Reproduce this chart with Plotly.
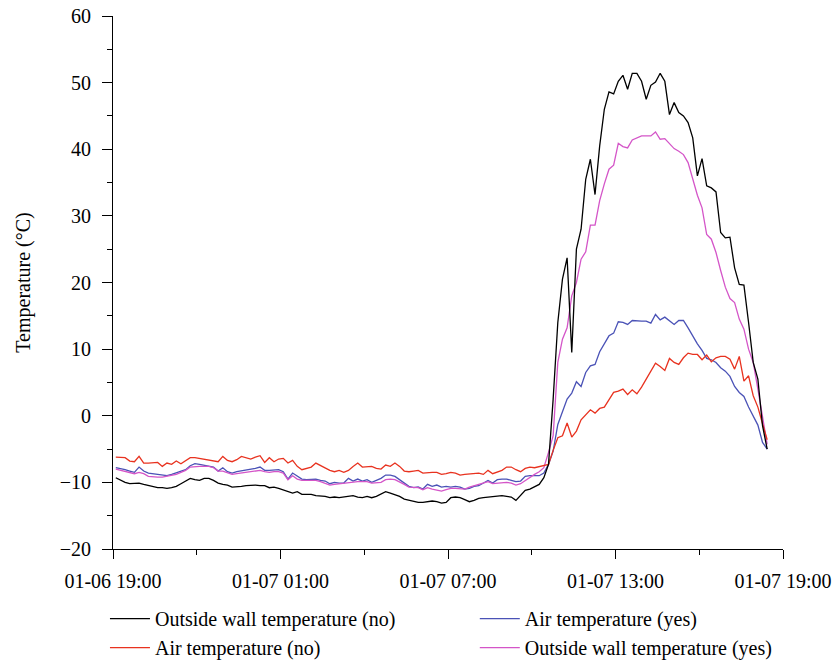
import pandas as pd
import plotly.graph_objects as go

start_time = "2021-01-06 19:06"
step = "10min"

wall_no = [
    -9.3, -9.7, -10.0, -10.2, -10.1, -10.1, -10.3, -10.5, -10.6, -10.8,
    -10.8, -10.9, -10.8, -10.6, -10.2, -9.8, -9.4, -9.6, -9.7, -9.4,
    -9.4, -9.7, -10.1, -10.3, -10.4, -10.7, -10.7, -10.6, -10.5, -10.4,
    -10.4, -10.5, -10.5, -10.8, -10.7, -10.9, -11.1, -11.3, -11.6, -11.4,
    -11.8, -11.8, -11.8, -12.0, -12.0, -12.1, -12.3, -12.2, -12.3, -12.2,
    -12.0, -12.0, -12.2, -12.3, -12.1, -12.3, -12.1, -11.7, -11.4, -11.6,
    -11.8, -12.1, -12.5, -12.7, -12.8, -13.0, -13.0, -12.9, -12.8, -12.9,
    -13.1, -13.0, -12.3, -12.2, -12.3, -12.6, -12.9, -12.7, -12.4, -12.3,
    -12.2, -12.1, -12.1, -12.0, -12.1, -12.2, -12.7, -11.9, -11.2, -11.0,
    -10.7, -10.3, -9.3, -7.3, 2.5, 14.0, 20.5, 23.7, 9.5, 25.0,
    28.0, 35.5, 38.5, 33.2, 40.5, 46.0, 48.6, 48.3, 50.2, 51.1,
    49.0, 51.4, 51.4, 50.2, 47.5, 49.6, 50.1, 51.4, 50.2, 45.2,
    47.0, 45.5, 45.0, 44.0, 41.7, 36.0, 38.6, 34.5, 34.2, 33.6,
    27.5, 26.7, 26.8, 22.2, 19.7, 19.6, 14.0, 8.0, 5.5, -1.5,
    -5.0,
]

air_no = [
    -6.2, -6.3, -6.3, -6.8, -6.9, -6.1, -7.1, -7.1, -7.0, -7.0,
    -7.6, -7.1, -7.3, -6.8, -7.2, -6.8, -6.3, -6.3, -6.4, -6.6,
    -6.7, -6.8, -6.9, -6.1, -6.7, -6.9, -6.6, -6.1, -6.3, -6.5,
    -6.2, -6.0, -7.0, -6.3, -6.9, -6.5, -6.4, -7.1, -6.7, -7.6,
    -8.1, -7.9, -7.7, -7.1, -7.5, -7.9, -8.2, -8.4, -8.2, -8.5,
    -8.2, -7.6, -7.1, -7.7, -7.6, -7.6, -7.9, -8.0, -7.4, -7.6,
    -7.1, -7.6, -8.3, -8.4, -8.3, -8.2, -8.6, -8.5, -8.5, -8.5,
    -8.8, -8.7, -8.5, -8.6, -8.9, -8.8, -8.7, -8.7, -8.6, -8.8,
    -8.2, -8.7, -8.4, -8.2, -7.7, -7.7, -8.1, -8.4, -7.9, -7.7,
    -7.8, -7.6, -7.4, -7.3, -5.2, -3.3, -3.0, -1.1, -3.2, -2.3,
    -0.6, 0.2, 0.9, 0.4, 1.1, 1.3, 2.4, 3.5, 3.7, 4.0,
    3.2, 3.9, 3.3, 4.3, 5.5, 6.8, 7.9, 7.4, 6.8, 8.6,
    8.0, 7.7, 8.7, 9.4, 9.2, 9.2, 8.4, 9.1, 8.1, 8.7,
    8.9, 8.9, 8.5, 7.0, 8.9, 5.2, 6.0, 3.0, 1.3, -1.2,
    -3.6,
]

air_yes = [
    -7.8, -7.9, -8.1, -8.3, -8.5, -7.7, -8.3, -8.6, -8.7, -8.8,
    -8.9, -9.0, -8.8, -8.6, -8.3, -8.1, -7.5, -7.2, -7.3, -7.4,
    -7.5, -7.7, -8.3, -7.8, -8.4, -8.6, -8.4, -8.3, -8.2, -8.1,
    -7.9, -7.7, -8.2, -8.2, -8.2, -8.1, -8.4, -9.5, -8.6, -9.0,
    -9.5, -9.6, -9.6, -9.5, -9.7, -9.8, -10.2, -10.0, -10.1, -10.1,
    -9.4, -9.8, -9.5, -9.8, -9.6, -10.0, -9.7, -9.4, -8.9, -8.9,
    -9.1, -9.6, -10.1, -10.6, -10.8, -10.7, -11.0, -10.3, -10.6, -10.4,
    -10.7, -10.6, -10.7, -10.6, -10.7, -11.0, -10.9, -10.6, -10.5, -10.1,
    -9.7, -10.1, -9.6, -9.5, -9.5, -9.7, -9.9, -9.8, -9.1, -9.0,
    -9.0, -9.0, -8.6, -7.3, -5.3, -1.3, 0.6, 2.5, 3.4, 5.1,
    4.4, 6.5, 7.5, 7.7, 9.6, 10.8, 12.0, 12.4, 14.1, 14.0,
    13.7, 14.3, 14.2, 14.2, 14.2, 13.9, 15.2, 14.4, 14.8, 14.3,
    13.7, 14.3, 14.3, 13.2, 11.9, 10.8, 9.8, 8.6, 8.4, 8.0,
    7.2, 6.7, 5.9, 4.4, 3.5, 2.9, 1.3, 0.0, -1.4, -4.0,
    -5.0,
]

wall_yes = [
    -8.0, -8.2, -8.4, -8.6, -8.7, -8.5, -8.7, -9.1, -9.2, -9.2,
    -9.2, -9.1, -8.9, -8.8, -8.5, -8.2, -7.7, -7.6, -7.6, -7.6,
    -7.6, -7.8, -8.3, -8.3, -8.6, -8.8, -8.7, -8.6, -8.5, -8.4,
    -8.2, -8.2, -8.4, -8.5, -8.4, -8.4, -8.6, -9.6, -9.0, -9.5,
    -9.7, -9.7, -9.7, -9.7, -9.9, -10.1, -10.4, -10.3, -10.2, -10.1,
    -10.0, -9.9, -9.9, -9.9, -9.9, -10.1, -10.1, -10.0, -9.6, -9.5,
    -9.6, -9.9, -10.3, -10.7, -10.7, -10.8, -11.1, -10.8, -11.0, -11.1,
    -11.3, -11.1, -10.9, -10.9, -11.0, -11.0, -10.7, -10.5, -10.4, -10.2,
    -9.9, -10.2, -10.1, -10.1, -10.0, -10.1, -10.4, -10.2, -9.7, -9.2,
    -8.8, -8.4, -7.8, -5.5, -3.0, 8.0, 11.5, 13.2, 18.0, 20.0,
    23.5, 24.6, 28.6, 28.6, 32.3, 34.8, 37.0, 37.6, 40.9, 40.4,
    40.2, 41.4, 41.7, 42.0, 42.0, 42.0, 42.6, 41.5, 41.6, 40.9,
    40.1, 39.7, 39.2, 38.0, 35.7, 33.1, 31.2, 27.2, 26.5, 24.5,
    21.8, 19.3, 17.6, 17.0, 14.5, 13.0, 10.0, 8.0, 4.0, -0.5,
    -4.3,
]

x_range = ["2021-01-06 19:00", "2021-01-07 19:00"]
x_tickvals = ["2021-01-06 19:00", "2021-01-07 01:00", "2021-01-07 07:00",
              "2021-01-07 13:00", "2021-01-07 19:00"]
x_ticktext = ["01-06 19:00", "01-07 01:00", "01-07 07:00", "01-07 13:00", "01-07 19:00"]
y_tickvals = [-20, -10, 0, 10, 20, 30, 40, 50, 60]
y_ticktext = ["\u221220", "\u221210", "0", "10", "20", "30", "40", "50", "60"]

times = pd.date_range(start=start_time, periods=len(wall_no), freq=step)

FONT = "Liberation Serif"
fig = go.Figure()

series = [
    ("Air temperature (yes)", air_yes, "#4a52b6", "legend2", 1),
    ("Outside wall temperature (yes)", wall_yes, "#d455c8", "legend2", 2),
    ("Air temperature (no)", air_no, "#e8321f", "legend", 2),
    ("Outside wall temperature (no)", wall_no, "#000000", "legend", 1),
]
for name, vals, color, leg, rank in series:
    fig.add_trace(go.Scatter(
        x=times, y=vals, mode="lines", name=name,
        line=dict(color=color, width=1.3),
        legend=leg, legendrank=rank,
    ))

axis_common = dict(
    showline=True, linecolor="black", linewidth=1,
    ticks="outside", tickcolor="black", tickwidth=1,
    showgrid=False, zeroline=False, automargin=False,
    tickfont=dict(family=FONT, size=20, color="black"),
)

fig.update_xaxes(
    type="date", range=x_range,
    tickmode="array", tickvals=x_tickvals, ticktext=x_ticktext,
    ticklen=9, ticklabelstandoff=5,
    minor=dict(ticks="outside", ticklen=5, tickcolor="black", tickwidth=1,
               dtick=3 * 3600 * 1000, tick0="2021-01-06 19:00", showgrid=False),
    **axis_common,
)
fig.update_yaxes(
    range=[-20, 60], tickmode="array", tickvals=y_tickvals, ticktext=y_ticktext,
    ticklen=10, ticklabelstandoff=7,
    minor=dict(ticks="outside", ticklen=5, tickcolor="black", tickwidth=1,
               dtick=5, tick0=0, showgrid=False),
    **axis_common,
)

legend_common = dict(
    orientation="v", yanchor="top", xanchor="left",
    font=dict(family=FONT, size=20, color="black"),
    bgcolor="rgba(0,0,0,0)", itemwidth=40, tracegroupgap=0,
)

fig.update_layout(
    width=833, height=663,
    margin=dict(l=113, r=50, t=16, b=114, autoexpand=False),
    plot_bgcolor="white", paper_bgcolor="white",
    font=dict(family=FONT, size=20, color="black"),
    showlegend=True,
    legend=dict(x=-0.012, y=-0.094, **legend_common),
    legend2=dict(x=0.540, y=-0.094, **legend_common),
    annotations=[dict(
        text="Temperature (°C)", textangle=-90,
        xref="paper", yref="paper", x=-0.134, y=0.5,
        xanchor="center", yanchor="middle", showarrow=False,
        font=dict(family=FONT, size=20, color="black"),
    )],
)

fig.write_html("out.html")
